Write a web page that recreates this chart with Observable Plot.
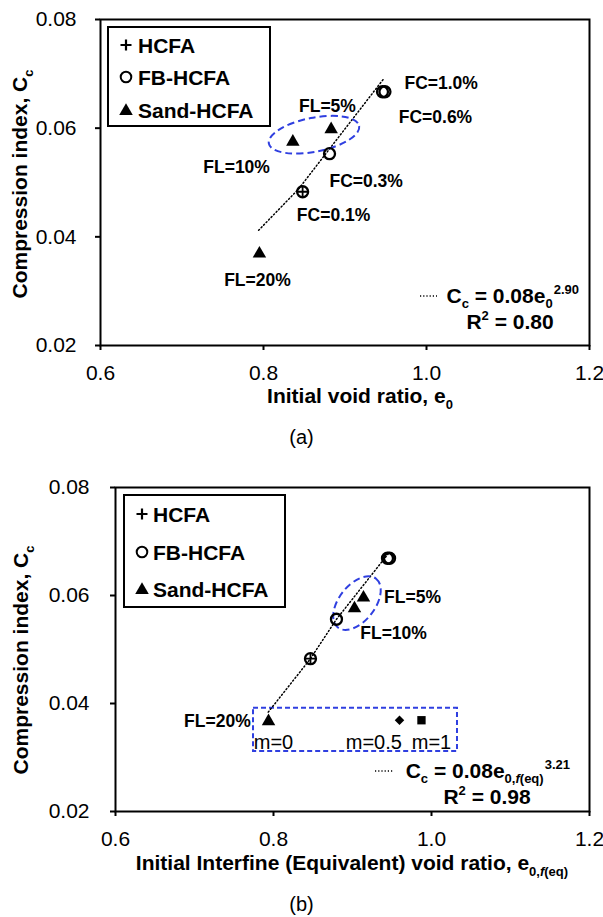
<!DOCTYPE html>
<html><head><meta charset="utf-8">
<script src="https://cdn.jsdelivr.net/npm/d3@7"></script>
<script src="https://cdn.jsdelivr.net/npm/@observablehq/plot@0.6"></script>
<style>
body{margin:0;background:#fff;}
#wrap{position:relative;width:603px;height:917px;font-family:"Liberation Sans",Arial,sans-serif;background:#fff;}
.panel{position:absolute;left:0;}
.cap{position:absolute;left:0;width:603px;text-align:center;font-size:20px;line-height:24px;color:#000;}
</style></head><body><div id="wrap"></div>
<script>
const FONT = '"Liberation Sans", Arial, sans-serif';
const BLUE = "#2f3fe0";

// ---------- shared axes ----------
const xTicks = [0.6, 0.8, 1.0, 1.2];
const yTicks = [0.02, 0.04, 0.06, 0.08];
const legendNames = ["HCFA", "FB-HCFA", "Sand-HCFA"];
const legendSymbols = ["plus", "circle", "triangle"];

// ---------- panel (a) ----------
const aHCFA = [{e: 0.848, cc: 0.0483}];
const aFB = [
  {e: 0.848, cc: 0.0483, fc: "0.1%"},
  {e: 0.881, cc: 0.0553, fc: "0.3%"},
  {e: 0.946, cc: 0.0667, fc: "0.6%"},
  {e: 0.949, cc: 0.0667, fc: "1.0%"}
];
const aSand = [
  {e: 0.883, cc: 0.0598, fl: "5%"},
  {e: 0.836, cc: 0.0575, fl: "10%"},
  {e: 0.795, cc: 0.0369, fl: "20%"}
];
const aTrend = [
  {e: 0.794, cc: 0.0412},
  {e: 0.843, cc: 0.0488},
  {e: 0.878, cc: 0.0556},
  {e: 0.947, cc: 0.0690}
];
const aLabels = [
  {e: 1.018, cc: 0.0682, t: "FC=1.0%"},
  {e: 1.011, cc: 0.0620, t: "FC=0.6%"},
  {e: 0.8785, cc: 0.0640, t: "FL=5%"},
  {e: 0.767, cc: 0.0528, t: "FL=10%"},
  {e: 0.926, cc: 0.0502, t: "FC=0.3%"},
  {e: 0.886, cc: 0.0439, t: "FC=0.1%"},
  {e: 0.7926, cc: 0.0320, t: "FL=20%"}
];
const aEllipse = [{e: 0.8626, cc: 0.0587}];

// ---------- panel (b) ----------
const bHCFA = [{e: 0.8468, cc: 0.0483}];
const bFB = [
  {e: 0.8468, cc: 0.0483},
  {e: 0.8797, cc: 0.0556},
  {e: 0.9443, cc: 0.0669},
  {e: 0.9469, cc: 0.0669}
];
const bSand = [
  {e: 0.9139, cc: 0.0596, fl: "5%"},
  {e: 0.9025, cc: 0.0576, fl: "10%"},
  {e: 0.7937, cc: 0.0367, fl: "20%"}
];
const bM05 = [{e: 0.9595, cc: 0.0369}];
const bM1 = [{e: 0.9873, cc: 0.0369}];
const bTrend = [
  {e: 0.7933, cc: 0.0384},
  {e: 0.8468, cc: 0.0483},
  {e: 0.8797, cc: 0.0556},
  {e: 0.9456, cc: 0.0678}
];
const bLabels = [
  {e: 0.976, cc: 0.0596, t: "FL=5%"},
  {e: 0.952, cc: 0.0530, t: "FL=10%"},
  {e: 0.729, cc: 0.0367, t: "FL=20%"}
];
const bMLabels = [
  {e: 0.800, cc: 0.0328, t: "m=0"},
  {e: 0.927, cc: 0.0328, t: "m=0.5"},
  {e: 1.000, cc: 0.0328, t: "m=1"}
];
const bRect = [{x1: 0.7747, x2: 1.0329, y1: 0.0311, y2: 0.0391}];
const bEllipse = [{e: 0.9063, cc: 0.0585}];

// ---------- helpers ----------
function ellipseMark(data, {rx, ry, angle}) {
  return (index, scales) => {
    const g = d3.create("svg:g");
    for (const d of data) {
      const cx = scales.x(d.e), cy = scales.y(d.cc);
      g.append("ellipse").attr("cx", cx).attr("cy", cy).attr("rx", rx).attr("ry", ry)
        .attr("transform", `rotate(${angle} ${cx} ${cy})`)
        .attr("fill", "none").attr("stroke", BLUE).attr("stroke-width", 2)
        .attr("stroke-dasharray", "7,4");
    }
    return g.node();
  };
}
function richText(parts, {x, y, anchor = "start", size = 21, weight = "bold", rotate = 0, subShift = 0.28}) {
  return () => {
    const t = d3.create("svg:text").attr("x", x).attr("y", y).attr("text-anchor", anchor)
      .attr("font-size", size).attr("font-weight", weight).attr("fill", "black")
      .attr("font-family", FONT);
    if (rotate) t.attr("transform", `rotate(${rotate} ${x} ${y})`);
    let shift = 0;
    for (const p of parts) {
      const target = p.sub ? subShift * size : p.sup ? -0.42 * size : 0;
      const ts = t.append("tspan").text(p.t);
      if (target - shift !== 0) ts.attr("dy", target - shift);
      if (p.dx) ts.attr("dx", p.dx);
      shift = target;
      if (p.sub || p.sup) ts.attr("font-size", size * 0.62);
      if (p.italic) ts.attr("font-style", "italic");
    }
    return t.node();
  };
}
function leaderMark({x1, x2, y}) {
  return () => d3.create("svg:line").attr("x1", x1).attr("x2", x2).attr("y1", y).attr("y2", y)
    .attr("stroke", "black").attr("stroke-width", 1.5).attr("stroke-dasharray", "1.2,2").node();
}
function legendMark({x, y, w, h, rows, symX, textX, size = 21}) {
  return () => {
    const g = d3.create("svg:g");
    g.append("rect").attr("x", x).attr("y", y).attr("width", w).attr("height", h)
      .attr("fill", "white").attr("stroke", "black").attr("stroke-width", 2);
    legendNames.forEach((name, i) => {
      const cy = rows[i], s = legendSymbols[i];
      if (s === "plus") {
        g.append("path").attr("d", "M-5.5,0H5.5M0,-5.5V5.5")
          .attr("transform", `translate(${symX},${cy})`).attr("stroke", "black").attr("stroke-width", 2.2).attr("fill", "none");
      } else if (s === "circle") {
        g.append("circle").attr("cx", symX).attr("cy", cy).attr("r", 5.3)
          .attr("stroke", "black").attr("stroke-width", 2).attr("fill", "none");
      } else {
        g.append("path").attr("d", d3.symbol(d3.symbolTriangle, 80)())
          .attr("transform", `translate(${symX},${cy + 1})`).attr("fill", "black");
      }
      g.append("text").attr("x", textX).attr("y", cy + 7.5).attr("font-size", size)
        .attr("text-anchor", "start")
        .attr("font-weight", "bold").attr("font-family", FONT).attr("fill", "black").text(name);
    });
    return g.node();
  };
}
const fmtX = d3.format(".1f"), fmtY = d3.format(".2f");

// ---------- panel (a) plot ----------
const plotA = Plot.plot({
  width: 603, height: 420,
  marginTop: 19, marginBottom: 75, marginLeft: 100, marginRight: 14,
  x: {domain: [0.6, 1.2]}, y: {domain: [0.02, 0.08]},
  style: {fontFamily: FONT, background: "white", overflow: "visible"},
  marks: [
    Plot.axisX(xTicks, {tickSize: 5, tickPadding: 15, fontSize: 21, tickFormat: fmtX, label: null, stroke: "black", strokeWidth: 2, fill: "black"}),
    Plot.axisY(yTicks, {tickSize: 5, tickPadding: 19, fontSize: 21, tickFormat: fmtY, label: null, stroke: "black", strokeWidth: 2, fill: "black"}),
    Plot.frame({stroke: "black", strokeWidth: 2}),
    Plot.line(aTrend, {x: "e", y: "cc", stroke: "black", strokeWidth: 1.5, strokeDasharray: "1.2,2.4"}),
    ellipseMark(aEllipse, {rx: 46, ry: 17, angle: -11}),
    Plot.dot(aFB, {x: "e", y: "cc", r: 5.5, stroke: "black", strokeWidth: 2.3, fill: "none"}),
    Plot.dot(aHCFA, {x: "e", y: "cc", symbol: "plus", r: 3.6, stroke: "black", strokeWidth: 1.8}),
    Plot.dot(aSand, {x: "e", y: "cc", symbol: "triangle", r: 5, fill: "black"}),
    Plot.text(aLabels, {x: "e", y: "cc", text: "t", fontSize: 17.5, fontWeight: "bold", fill: "black"}),
    legendMark({x: 108, y: 27, w: 162, h: 99, rows: [45, 77, 110], symX: 126, textX: 138}),
    leaderMark({x1: 420, x2: 437, y: 296}),
    richText([{t: "C"}, {t: "c", sub: true}, {t: " = 0.08e"}, {t: "0", sub: true}, {t: "2.90", sup: true, dx: 1}], {x: 579, y: 303, anchor: "end", subShift: 0.22}),
    richText([{t: "R"}, {t: "2", sup: true}, {t: " = 0.80"}], {x: 510, y: 329, anchor: "middle"}),
    richText([{t: "Initial void ratio, e"}, {t: "0", sub: true}], {x: 360, y: 403, anchor: "middle"}),
    richText([{t: "Compression index, C"}, {t: "c", sub: true}], {x: 27, y: 184, anchor: "middle", rotate: -90})
  ]
});

// ---------- panel (b) plot ----------
const plotB = Plot.plot({
  width: 603, height: 420,
  marginTop: 19, marginBottom: 77, marginLeft: 115, marginRight: 14,
  x: {domain: [0.6, 1.2]}, y: {domain: [0.02, 0.08]},
  style: {fontFamily: FONT, background: "white", overflow: "visible"},
  marks: [
    Plot.axisX(xTicks, {tickSize: 5, tickPadding: 15, fontSize: 21, tickFormat: fmtX, label: null, stroke: "black", strokeWidth: 2, fill: "black"}),
    Plot.axisY(yTicks, {tickSize: 5, tickPadding: 21, fontSize: 21, tickFormat: fmtY, label: null, stroke: "black", strokeWidth: 2, fill: "black"}),
    Plot.frame({stroke: "black", strokeWidth: 2}),
    Plot.rect(bRect, {x1: "x1", x2: "x2", y1: "y1", y2: "y2", fill: "none", stroke: BLUE, strokeWidth: 2, strokeDasharray: "5,3"}),
    Plot.line(bTrend, {x: "e", y: "cc", stroke: "black", strokeWidth: 1.5, strokeDasharray: "1.2,2.4"}),
    ellipseMark(bEllipse, {rx: 31, ry: 18, angle: -52}),
    Plot.dot(bFB, {x: "e", y: "cc", r: 5.5, stroke: "black", strokeWidth: 2.3, fill: "none"}),
    Plot.dot(bHCFA, {x: "e", y: "cc", symbol: "plus", r: 3.6, stroke: "black", strokeWidth: 1.8}),
    Plot.dot(bSand, {x: "e", y: "cc", symbol: "triangle", r: 5, fill: "black"}),
    Plot.dot(bM05, {x: "e", y: "cc", symbol: "diamond2", r: 4.3, fill: "black", stroke: "none"}),
    Plot.dot(bM1, {x: "e", y: "cc", symbol: "square", r: 4.7, fill: "black"}),
    Plot.text(bLabels, {x: "e", y: "cc", text: "t", fontSize: 17.5, fontWeight: "bold", fill: "black"}),
    Plot.text(bMLabels, {x: "e", y: "cc", text: "t", fontSize: 20, fill: "black"}),
    legendMark({x: 124, y: 27, w: 161, h: 112, rows: [46, 84, 121], symX: 142, textX: 153}),
    leaderMark({x1: 375, x2: 393, y: 303}),
    richText([{t: "C"}, {t: "c", sub: true}, {t: " = 0.08e"}, {t: "0,", sub: true}, {t: "f", sub: true, italic: true}, {t: "(eq)", sub: true}, {t: "3.21", sup: true, dx: 1}], {x: 570, y: 310, anchor: "end", subShift: 0.22}),
    richText([{t: "R"}, {t: "2", sup: true}, {t: " = 0.98"}], {x: 487, y: 336, anchor: "middle"}),
    richText([{t: "Initial Interfine (Equivalent) void ratio, e"}, {t: "0,", sub: true}, {t: "f", sub: true, italic: true}, {t: "(eq)", sub: true}], {x: 352, y: 402, anchor: "middle"}),
    richText([{t: "Compression index, C"}, {t: "c", sub: true}], {x: 28, y: 192, anchor: "middle", rotate: -90})
  ]
});

const wrap = document.getElementById("wrap");
plotA.classList.add("panel"); plotA.style.top = "0px";
plotB.classList.add("panel"); plotB.style.top = "468px";
wrap.appendChild(plotA);
wrap.appendChild(plotB);
const capA = document.createElement("div"); capA.className = "cap"; capA.style.top = "425px"; capA.textContent = "(a)";
const capB = document.createElement("div"); capB.className = "cap"; capB.style.top = "892px"; capB.textContent = "(b)";
wrap.appendChild(capA); wrap.appendChild(capB);
</script></body></html>
